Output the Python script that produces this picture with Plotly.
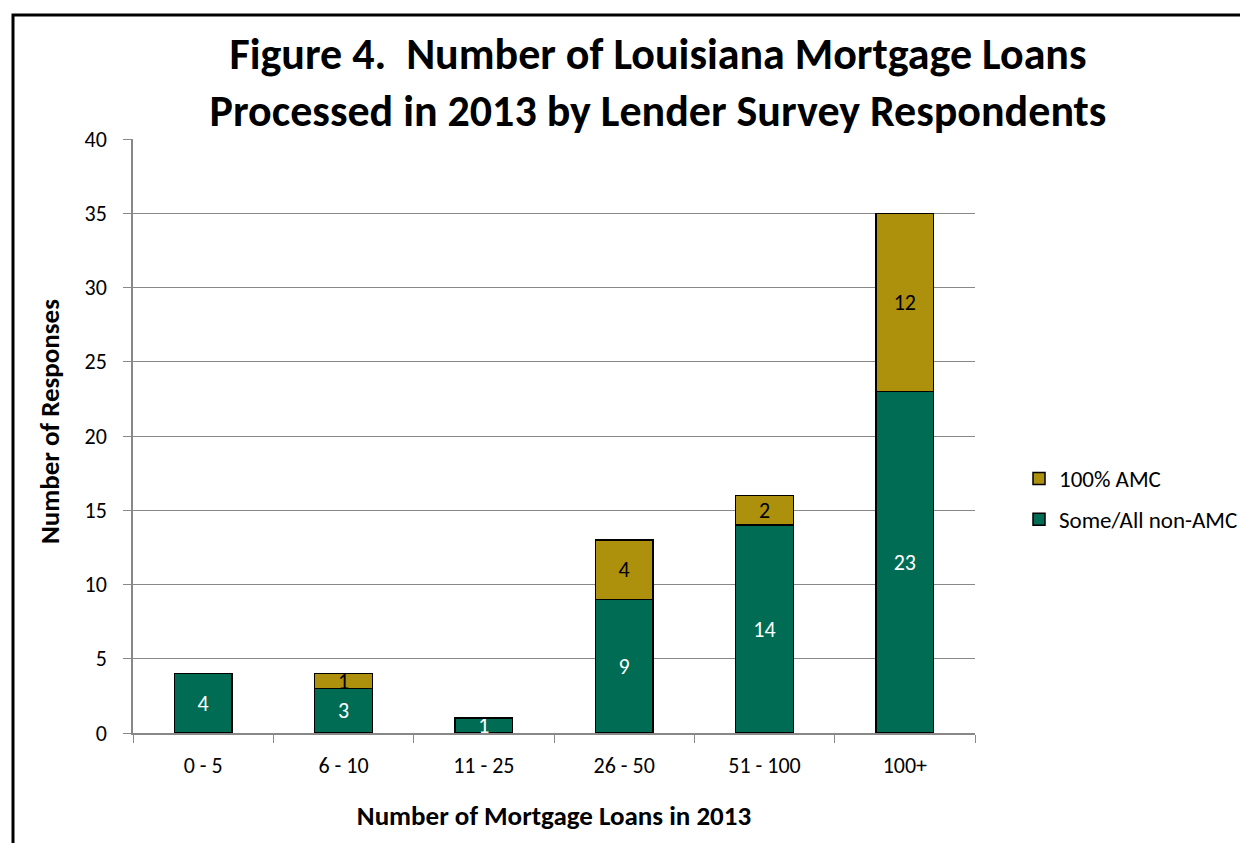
import plotly.graph_objects as go

categories = ["0 - 5", "6 - 10", "11 - 25", "26 - 50", "51 - 100", "100+"]
non_amc = [4, 3, 1, 9, 14, 23]
amc = [0, 1, 0, 4, 2, 12]

W, H = 1248, 843
OFF = 8  # page body margin
# plot area in screen pixels
L, R, T, B = 133 - OFF, 975 - OFF, 139 - OFF, 733 - OFF

def px_x(x):
    return (x - OFF - L) / (R - L)

def px_y(y):
    return (B - (y - OFF)) / (B - T)

fnt = "Carlito, Calibri, Lato, sans-serif"

fig = go.Figure()
fig.add_trace(go.Bar(
    x=categories, y=non_amc, name="Some/All non-AMC", legendgroup="b", legendrank=2,
    marker=dict(color="#006C54", line=dict(color="black", width=1.5)),
    text=[str(v) if v else "" for v in non_amc], textposition="inside", textangle=0,
    insidetextanchor="middle", textfont=dict(color="white", size=22, family=fnt),
    hoverinfo="skip",
))
fig.add_trace(go.Bar(
    x=categories, y=amc, name="100% AMC", legendgroup="a", legendrank=1,
    marker=dict(color="#AD900C", line=dict(color="black", width=1.5)),
    text=[str(v) if v else "" for v in amc], textposition="inside", textangle=0,
    insidetextanchor="middle", textfont=dict(color="black", size=22, family=fnt),
    hoverinfo="skip",
))

fig.update_layout(
    width=W, height=H,
    barmode="stack", bargap=0.59,
    margin=dict(l=L, r=W - R, t=T, b=H - B, pad=0),
    paper_bgcolor="white", plot_bgcolor="white",
    font=dict(family=fnt, size=22, color="black"),
    uniformtext=dict(mode="show", minsize=22),
    title=dict(
        text="Figure 4.  Number of Louisiana Mortgage Loans<br>Processed in 2013 by Lender Survey Respondents",
        x=(658 - OFF) / W, xanchor="center", y=1 - (69 - OFF) / H, yanchor="middle",
        font=dict(size=44, family=fnt, color="black", weight="bold"),
    ),
    legend=dict(
        x=px_x(1019), y=px_y(499), xanchor="left", yanchor="middle",
        traceorder="grouped", font=dict(size=23, family=fnt),
        itemwidth=30, tracegroupgap=8, bgcolor="rgba(0,0,0,0)",
    ),
    xaxis=dict(
        title=dict(text="<b>Number of Mortgage Loans in 2013</b>", font=dict(size=27, family=fnt), standoff=28),
        showline=True, linecolor="#888888", linewidth=1.5,
        ticks="outside", tickson="boundaries", ticklen=8, tickcolor="#888888",
        tickfont=dict(size=22, family=fnt), showgrid=False, ticklabelstandoff=12,
    ),
    yaxis=dict(
        range=[0, 40], dtick=5, showline=True, linecolor="#888888", linewidth=1.5,
        ticks="outside", ticklen=8, tickcolor="#888888",
        showgrid=True, gridcolor="#888888", gridwidth=1.2,
        tickfont=dict(size=22, family=fnt), zeroline=False, ticklabelstandoff=12,
    ),
    annotations=[dict(
        text="<b>Number of Responses</b>", textangle=-90, showarrow=False,
        xref="paper", yref="paper", x=px_x(49), y=px_y(422),
        xanchor="center", yanchor="middle", font=dict(size=27, family=fnt),
    )],
    shapes=[dict(
        type="rect", xref="paper", yref="paper",
        x0=px_x(13), x1=px_x(1275), y0=px_y(870), y1=px_y(15),
        line=dict(color="black", width=3), fillcolor="rgba(0,0,0,0)", layer="below",
    )],
)

fig.write_html("out.html")
